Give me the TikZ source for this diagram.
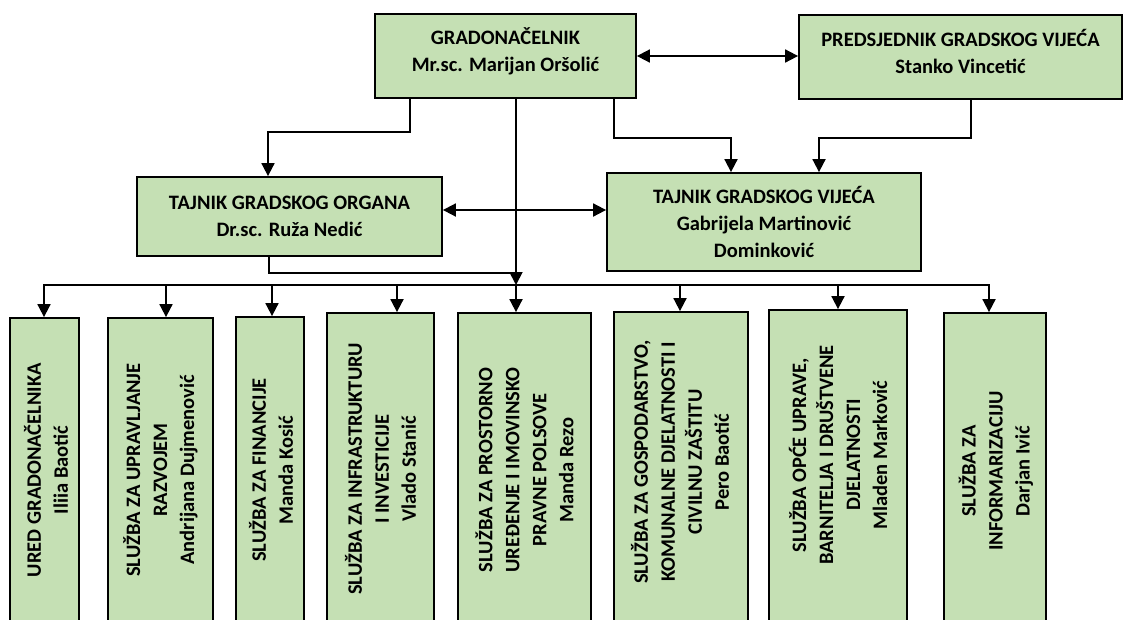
\documentclass[tikz,border=0pt]{standalone}
\usepackage{fontspec}
\setmainfont{Carlito}
\usetikzlibrary{arrows.meta}
\definecolor{boxgreen}{RGB}{197,224,180}

\begin{document}
\begin{tikzpicture}[x=1pt,y=-1pt,
	line width=1.8pt,
	font=\bfseries\fontsize{20.5}{27}\selectfont,
	box/.style={draw, fill=boxgreen, inner sep=0pt, align=center},
	vtext/.style={rotate=90, align=center},
	arr/.style={-{Triangle[width=13pt,length=13pt]}},
	darr/.style={{Triangle[width=13pt,length=13pt]}-{Triangle[width=13pt,length=13pt]}}]
	\useasboundingbox (0,0) rectangle (1124,619);
	\clip (0,0) rectangle (1124,619);
	
	%top
	\node[box, minimum width=261pt, minimum height=84pt, text depth=13pt] (gradon) at (505.5,56) {GRADONAČELNIK\\Mr.sc. Marijan Oršolić};
	\node[box, minimum width=323pt, minimum height=84pt, text depth=12pt] (predsj) at (960.5,57) {PREDSJEDNIK GRADSKOG VIJEĆA\\Stanko Vincetić};
	
	%secretaries
	\node[box, minimum width=305pt, minimum height=79pt] (tgo) at (289.5,216.5) {TAJNIK GRADSKOG ORGANA\\Dr.sc. Ruža Nedić};
	\node[box, minimum width=314pt, minimum height=98pt] (tgv) at (764,222) {TAJNIK GRADSKOG VIJEĆA\\Gabrijela Martinović\\Dominković};
	
	%services
	\node[box, minimum width=69pt, minimum height=307pt] (d1) at (44.5,471.5) {};
	\node[box, minimum width=105pt, minimum height=307pt] (d2) at (160.5,471.5) {};
	\node[box, minimum width=68pt, minimum height=308pt] (d3) at (270,471) {};
	\node[box, minimum width=107pt, minimum height=312pt] (d4) at (380.5,469) {};
	\node[box, minimum width=133pt, minimum height=312pt] (d5) at (524.5,469) {};
	\node[box, minimum width=134pt, minimum height=313pt] (d6) at (681,468.5) {};
	\node[box, minimum width=138pt, minimum height=315pt] (d7) at (838,467.5) {};
	\node[box, minimum width=102pt, minimum height=312pt] (d8) at (995,469) {};
	
	\node[vtext] (t1) at (46,470) {URED GRADONAČELNIKA\\Iliia Baotić};
	\node[vtext] (t2) at (160.5,470) {SLUŽBA ZA UPRAVLJANJE\\RAZVOJEM\\Andrijana Dujmenović};
	\node[vtext] (t3) at (271,470) {SLUŽBA ZA FINANCIJE\\Manda Kosić};
	\node[vtext] (t4) at (380.5,469) {SLUŽBA ZA INFRASTRUKTURU\\I INVESTICIJE\\Vlado Stanić};
	\node[vtext] (t5) at (524.5,470) {SLUŽBA ZA PROSTORNO\\UREĐENJE I IMOVINSKO\\PRAVNE POLSOVE\\Manda Rezo};
	\node[vtext] (t6) at (680,462) {SLUŽBA ZA GOSPODARSTVO,\\KOMUNALNE DJELATNOSTI I\\CIVILNU ZAŠTITU\\Pero Baotić};
	\node[vtext] (t7) at (838,455) {SLUŽBA OPĆE UPRAVE,\\BARNITELJA I DRUŠTVENE\\DJELATNOSTI\\Mladen Marković};
	\node[vtext] (t8) at (996,471) {SLUŽBA ZA\\INFORMARIZACIJU\\Darjan Ivić};
	
	%links
	\draw[darr] (gradon.east) -- (gradon.east -| predsj.west);
	\draw[arr] (410,0 |- gradon.south) |- (268,132) -- (268,0 |- tgo.north);
	\draw[arr] (614,0 |- gradon.south) |- (731,138) -- (731,0 |- tgv.north);
	\draw[arr] (971,0 |- predsj.south) |- (819,138) -- (819,0 |- tgv.north);
	\draw[darr] (tgo.east |- 0,210) -- (tgv.west |- 0,210);
	
	%main line
	\coordinate (busl) at (43,285);
	\coordinate (busr) at (990,285);
	\draw (busl) -- (busr);
	\draw[arr] (516,0 |- gradon.south) -- (516,0 |- busl);
	\draw (269,0 |- tgo.south) |- (516,273);
	\foreach \x/\d in {44/d1,166/d2,272/d3,397/d4,516/d5,680/d6,838/d7,989/d8}
		\draw[arr] (\x,0 |- busl) -- (\x,0 |- \d.north);
\end{tikzpicture}
\end{document}
